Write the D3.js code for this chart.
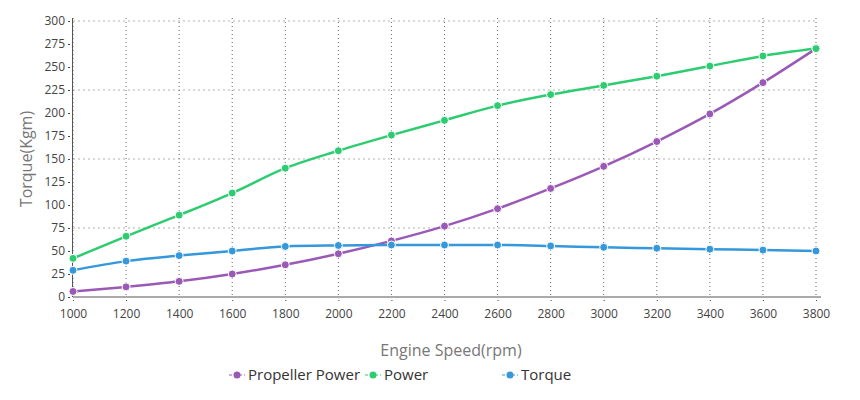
<!DOCTYPE html>
<html>
<head>
<meta charset="utf-8">
<script src="https://cdn.jsdelivr.net/npm/d3@7"></script>
<style>
  body { margin: 0; background: #fff; font-family: "Open Sans", sans-serif; }
  .tick text { font-family: "Open Sans", sans-serif; font-size: 12px; fill: #444; }
</style>
</head>
<body>
<div id="chart"></div>
<script>
// engine speed (rpm)
var speeds = [1000, 1200, 1400, 1600, 1800, 2000, 2200, 2400, 2600, 2800, 3000, 3200, 3400, 3600, 3800];
var propellerPower = [6, 11, 17, 25, 35, 47, 61, 77, 96, 118, 142, 169, 199, 233, 270];
var power = [42, 66, 89, 113, 140, 159, 176, 192, 208, 220, 230, 240, 251, 262, 270];
var torque = [29, 39, 45, 50, 55, 56, 56.5, 56.5, 56.5, 55.5, 54, 53, 52, 51, 50];
var yTicks = [0, 25, 50, 75, 100, 125, 150, 175, 200, 225, 250, 275, 300];
var yGrid = [75, 150, 225, 300];

var series = [
  { name: "Propeller Power", values: propellerPower, color: "#9b59b6" },
  { name: "Power", values: power, color: "#2ecc71" },
  { name: "Torque", values: torque, color: "#3498db" }
];

function draw() {
  var W = 860, H = 400;
  var margin = { top: 21, right: 44, bottom: 103, left: 73 };
  var width = W - margin.left - margin.right;
  var height = H - margin.top - margin.bottom;

  var svg = d3.select("#chart").append("svg")
    .attr("width", W)
    .attr("height", H);

  var g = svg.append("g")
    .attr("transform", "translate(" + margin.left + "," + margin.top + ")");

  var x = d3.scaleLinear().domain([1000, 3800]).range([0, width]);
  var y = d3.scaleLinear().domain([0, 300]).range([height, 0]);

  // horizontal grid (light dots)
  g.selectAll(".hgrid")
    .data(yGrid)
    .enter().append("line")
    .attr("x1", 0).attr("x2", width)
    .attr("y1", function(d) { return y(d); })
    .attr("y2", function(d) { return y(d); })
    .attr("stroke", "#ccc")
    .attr("stroke-width", 1.5)
    .attr("stroke-dasharray", "2,3");

  // vertical grid (dark dots)
  g.selectAll(".vgrid")
    .data(speeds)
    .enter().append("line")
    .attr("x1", function(d) { return x(d); })
    .attr("x2", function(d) { return x(d); })
    .attr("y1", -3).attr("y2", height)
    .attr("stroke", "#666")
    .attr("stroke-width", 1)
    .attr("stroke-dasharray", "1,3");

  // y axis
  var yAxis = g.append("g")
    .call(d3.axisLeft(y).tickValues(yTicks).tickSize(2).tickPadding(6));
  yAxis.select(".domain").remove();
  yAxis.selectAll(".tick line").attr("stroke", "#444").attr("transform", "translate(-3,0)");
  g.append("line")
    .attr("x1", -0.5).attr("x2", -0.5)
    .attr("y1", -3).attr("y2", height)
    .attr("stroke", "#555").attr("stroke-width", 1);

  // x axis
  var xAxis = g.append("g")
    .attr("transform", "translate(0," + height + ")")
    .call(d3.axisBottom(x).tickValues(speeds).tickFormat(d3.format("d")).tickSize(4).tickPadding(8));
  xAxis.select(".domain").remove();
  xAxis.selectAll(".tick line").attr("stroke", "#444").attr("stroke-dasharray", "1,2");
  g.append("line")
    .attr("x1", 0).attr("x2", width + 5)
    .attr("y1", height).attr("y2", height)
    .attr("stroke", "#aaa").attr("stroke-width", 2);

  // lines + points
  var line = d3.line()
    .x(function(d, i) { return x(speeds[i]); })
    .y(function(d) { return y(d); })
    .curve(d3.curveMonotoneX);

  series.forEach(function(s) {
    g.append("path")
      .datum(s.values)
      .attr("fill", "none")
      .attr("stroke", s.color)
      .attr("stroke-width", 2.5)
      .attr("d", line);
  });
  series.forEach(function(s) {
    g.selectAll(null)
      .data(s.values)
      .enter().append("circle")
      .attr("cx", function(d, i) { return x(speeds[i]); })
      .attr("cy", function(d) { return y(d); })
      .attr("r", 4)
      .attr("fill", s.color)
      .attr("stroke", "#fff")
      .attr("stroke-width", 1);
  });

  // axis titles
  svg.append("text")
    .attr("x", 451).attr("y", 356)
    .attr("text-anchor", "middle")
    .style("font-size", "16px")
    .style("fill", "#777")
    .text("Engine Speed(rpm)");

  svg.append("text")
    .attr("transform", "translate(32," + (margin.top + height / 2) + ") rotate(-90)")
    .attr("text-anchor", "middle")
    .style("font-size", "16px")
    .style("fill", "#777")
    .text("Torque(Kgm)");

  // legend
  var legendX = [237, 373, 510];
  var legend = svg.selectAll(".legend")
    .data(series)
    .enter().append("g")
    .attr("class", "legend")
    .attr("transform", function(d, i) { return "translate(" + legendX[i] + ",375)"; });
  legend.append("line")
    .attr("x1", -8).attr("x2", 8)
    .attr("stroke", function(d) { return d.color; })
    .attr("stroke-width", 1)
    .attr("stroke-dasharray", "3,2");
  legend.append("circle")
    .attr("r", 3.5)
    .attr("fill", function(d) { return d.color; });
  legend.append("text")
    .attr("x", 11).attr("dy", "0.35em")
    .style("font-size", "15px")
    .style("fill", "#333")
    .text(function(d) { return d.name; });
}

window.onload = draw;
</script>
</body>
</html>
